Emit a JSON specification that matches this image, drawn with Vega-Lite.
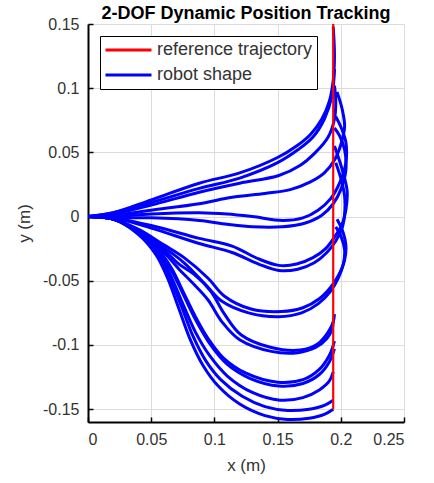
{
  "$schema": "https://vega.github.io/schema/vega-lite/v6.json",
  "autosize": "none",
  "width": 316,
  "height": 398,
  "padding": {"left": 88, "top": 24, "right": 30, "bottom": 61},
  "background": "white",
  "title": {"text": "2-DOF Dynamic Position Tracking", "fontSize": 18, "fontWeight": "bold", "font": "Liberation Sans", "color": "#000000", "offset": -7, "anchor": "middle", "frame": "group"},
  "config": {
    "view": {"stroke": null},
    "font": "Liberation Sans",
    "axis": {"labelFont": "Liberation Sans", "titleFont": "Liberation Sans", "labelFontSize": 16, "titleFontSize": 17, "titleFontWeight": "normal", "labelColor": "#333333", "titleColor": "#333333", "domainColor": "#000000", "domainWidth": 2, "tickColor": "#000000", "tickWidth": 1.5, "tickSize": -5, "gridColor": "#dcdcdc", "gridWidth": 1}
  },
  "data": {"values": [
    {"s":"robot shape","c":1,"i":0,"x":0,"y":0},{"s":"robot shape","c":1,"i":1,"x":0.02,"y":0.003},{"s":"robot shape","c":1,"i":2,"x":0.05,"y":0.013},{"s":"robot shape","c":1,"i":3,"x":0.088,"y":0.026},{"s":"robot shape","c":1,"i":4,"x":0.12,"y":0.034},{"s":"robot shape","c":1,"i":5,"x":0.15,"y":0.046},{"s":"robot shape","c":1,"i":6,"x":0.165,"y":0.055},{"s":"robot shape","c":1,"i":7,"x":0.176,"y":0.064},{"s":"robot shape","c":1,"i":8,"x":0.185,"y":0.076},{"s":"robot shape","c":1,"i":9,"x":0.191,"y":0.09},{"s":"robot shape","c":1,"i":10,"x":0.194,"y":0.106},{"s":"robot shape","c":1,"i":11,"x":0.195,"y":0.125},{"s":"robot shape","c":1,"i":12,"x":0.194,"y":0.148},
    {"s":"robot shape","c":2,"i":0,"x":0,"y":0},{"s":"robot shape","c":2,"i":1,"x":0.02,"y":0.003},{"s":"robot shape","c":2,"i":2,"x":0.05,"y":0.011},{"s":"robot shape","c":2,"i":3,"x":0.088,"y":0.022},{"s":"robot shape","c":2,"i":4,"x":0.12,"y":0.03},{"s":"robot shape","c":2,"i":5,"x":0.15,"y":0.042},{"s":"robot shape","c":2,"i":6,"x":0.166,"y":0.052},{"s":"robot shape","c":2,"i":7,"x":0.178,"y":0.062},{"s":"robot shape","c":2,"i":8,"x":0.187,"y":0.076},{"s":"robot shape","c":2,"i":9,"x":0.193,"y":0.094},{"s":"robot shape","c":2,"i":10,"x":0.195,"y":0.115},
    {"s":"robot shape","c":3,"i":0,"x":0,"y":0},{"s":"robot shape","c":3,"i":1,"x":0.02,"y":0.002},{"s":"robot shape","c":3,"i":2,"x":0.05,"y":0.009},{"s":"robot shape","c":3,"i":3,"x":0.088,"y":0.019},{"s":"robot shape","c":3,"i":4,"x":0.12,"y":0.026},{"s":"robot shape","c":3,"i":5,"x":0.151,"y":0.032},{"s":"robot shape","c":3,"i":6,"x":0.168,"y":0.04},{"s":"robot shape","c":3,"i":7,"x":0.18,"y":0.05},{"s":"robot shape","c":3,"i":8,"x":0.19,"y":0.062},{"s":"robot shape","c":3,"i":9,"x":0.195,"y":0.076},{"s":"robot shape","c":3,"i":10,"x":0.196,"y":0.09},{"s":"robot shape","c":3,"i":11,"x":0.195,"y":0.102},
    {"s":"robot shape","c":4,"i":0,"x":0,"y":0},{"s":"robot shape","c":4,"i":1,"x":0.02,"y":0.001},{"s":"robot shape","c":4,"i":2,"x":0.05,"y":0.005},{"s":"robot shape","c":4,"i":3,"x":0.088,"y":0.01},{"s":"robot shape","c":4,"i":4,"x":0.114,"y":0.015},{"s":"robot shape","c":4,"i":5,"x":0.14,"y":0.018},{"s":"robot shape","c":4,"i":6,"x":0.16,"y":0.021},{"s":"robot shape","c":4,"i":7,"x":0.176,"y":0.027},{"s":"robot shape","c":4,"i":8,"x":0.187,"y":0.034},{"s":"robot shape","c":4,"i":9,"x":0.195,"y":0.044},{"s":"robot shape","c":4,"i":10,"x":0.2,"y":0.056},{"s":"robot shape","c":4,"i":11,"x":0.203,"y":0.07},{"s":"robot shape","c":4,"i":12,"x":0.201,"y":0.084},{"s":"robot shape","c":4,"i":13,"x":0.197,"y":0.097},
    {"s":"robot shape","c":5,"i":0,"x":0,"y":0},{"s":"robot shape","c":5,"i":1,"x":0.02,"y":0.0},{"s":"robot shape","c":5,"i":2,"x":0.05,"y":0.002},{"s":"robot shape","c":5,"i":3,"x":0.088,"y":0.003},{"s":"robot shape","c":5,"i":4,"x":0.11,"y":0.002},{"s":"robot shape","c":5,"i":5,"x":0.13,"y":0.0},{"s":"robot shape","c":5,"i":6,"x":0.154,"y":-0.003},{"s":"robot shape","c":5,"i":7,"x":0.17,"y":-0.001},{"s":"robot shape","c":5,"i":8,"x":0.182,"y":0.005},{"s":"robot shape","c":5,"i":9,"x":0.192,"y":0.014},{"s":"robot shape","c":5,"i":10,"x":0.199,"y":0.026},{"s":"robot shape","c":5,"i":11,"x":0.204,"y":0.042},{"s":"robot shape","c":5,"i":12,"x":0.204,"y":0.058},{"s":"robot shape","c":5,"i":13,"x":0.2,"y":0.07},{"s":"robot shape","c":5,"i":14,"x":0.196,"y":0.078},
    {"s":"robot shape","c":6,"i":0,"x":0,"y":0},{"s":"robot shape","c":6,"i":1,"x":0.02,"y":-0.001},{"s":"robot shape","c":6,"i":2,"x":0.05,"y":-0.001},{"s":"robot shape","c":6,"i":3,"x":0.088,"y":-0.003},{"s":"robot shape","c":6,"i":4,"x":0.11,"y":-0.006},{"s":"robot shape","c":6,"i":5,"x":0.13,"y":-0.008},{"s":"robot shape","c":6,"i":6,"x":0.154,"y":-0.008},{"s":"robot shape","c":6,"i":7,"x":0.172,"y":-0.005},{"s":"robot shape","c":6,"i":8,"x":0.185,"y":0.001},{"s":"robot shape","c":6,"i":9,"x":0.194,"y":0.01},{"s":"robot shape","c":6,"i":10,"x":0.2,"y":0.021},{"s":"robot shape","c":6,"i":11,"x":0.204,"y":0.036},{"s":"robot shape","c":6,"i":12,"x":0.203,"y":0.052},{"s":"robot shape","c":6,"i":13,"x":0.199,"y":0.063},{"s":"robot shape","c":6,"i":14,"x":0.195,"y":0.069},
    {"s":"robot shape","c":7,"i":0,"x":0,"y":0},{"s":"robot shape","c":7,"i":1,"x":0.02,"y":-0.001},{"s":"robot shape","c":7,"i":2,"x":0.05,"y":-0.007},{"s":"robot shape","c":7,"i":3,"x":0.088,"y":-0.017},{"s":"robot shape","c":7,"i":4,"x":0.114,"y":-0.023},{"s":"robot shape","c":7,"i":5,"x":0.135,"y":-0.033},{"s":"robot shape","c":7,"i":6,"x":0.151,"y":-0.038},{"s":"robot shape","c":7,"i":7,"x":0.165,"y":-0.037},{"s":"robot shape","c":7,"i":8,"x":0.178,"y":-0.032},{"s":"robot shape","c":7,"i":9,"x":0.188,"y":-0.025},{"s":"robot shape","c":7,"i":10,"x":0.195,"y":-0.016},{"s":"robot shape","c":7,"i":11,"x":0.201,"y":-0.006},{"s":"robot shape","c":7,"i":12,"x":0.204,"y":0.005},{"s":"robot shape","c":7,"i":13,"x":0.205,"y":0.02},{"s":"robot shape","c":7,"i":14,"x":0.201,"y":0.037},{"s":"robot shape","c":7,"i":15,"x":0.195,"y":0.055},
    {"s":"robot shape","c":8,"i":0,"x":0,"y":0},{"s":"robot shape","c":8,"i":1,"x":0.02,"y":-0.001},{"s":"robot shape","c":8,"i":2,"x":0.05,"y":-0.009},{"s":"robot shape","c":8,"i":3,"x":0.088,"y":-0.021},{"s":"robot shape","c":8,"i":4,"x":0.114,"y":-0.028},{"s":"robot shape","c":8,"i":5,"x":0.135,"y":-0.037},{"s":"robot shape","c":8,"i":6,"x":0.151,"y":-0.042},{"s":"robot shape","c":8,"i":7,"x":0.166,"y":-0.041},{"s":"robot shape","c":8,"i":8,"x":0.179,"y":-0.036},{"s":"robot shape","c":8,"i":9,"x":0.189,"y":-0.028},{"s":"robot shape","c":8,"i":10,"x":0.196,"y":-0.019},{"s":"robot shape","c":8,"i":11,"x":0.201,"y":-0.009},{"s":"robot shape","c":8,"i":12,"x":0.203,"y":0.002},{"s":"robot shape","c":8,"i":13,"x":0.203,"y":0.016},{"s":"robot shape","c":8,"i":14,"x":0.2,"y":0.03},{"s":"robot shape","c":8,"i":15,"x":0.196,"y":0.042},
    {"s":"robot shape","c":9,"i":0,"x":0,"y":0},{"s":"robot shape","c":9,"i":1,"x":0.02,"y":-0.002},{"s":"robot shape","c":9,"i":2,"x":0.04,"y":-0.01},{"s":"robot shape","c":9,"i":3,"x":0.06,"y":-0.022},{"s":"robot shape","c":9,"i":4,"x":0.076,"y":-0.032},{"s":"robot shape","c":9,"i":5,"x":0.095,"y":-0.048},{"s":"robot shape","c":9,"i":6,"x":0.108,"y":-0.062},{"s":"robot shape","c":9,"i":7,"x":0.129,"y":-0.072},{"s":"robot shape","c":9,"i":8,"x":0.153,"y":-0.074},{"s":"robot shape","c":9,"i":9,"x":0.17,"y":-0.071},{"s":"robot shape","c":9,"i":10,"x":0.183,"y":-0.064},{"s":"robot shape","c":9,"i":11,"x":0.192,"y":-0.055},{"s":"robot shape","c":9,"i":12,"x":0.198,"y":-0.046},{"s":"robot shape","c":9,"i":13,"x":0.203,"y":-0.034},{"s":"robot shape","c":9,"i":14,"x":0.204,"y":-0.022},{"s":"robot shape","c":9,"i":15,"x":0.201,"y":-0.01},{"s":"robot shape","c":9,"i":16,"x":0.197,"y":-0.002},
    {"s":"robot shape","c":10,"i":0,"x":0,"y":0},{"s":"robot shape","c":10,"i":1,"x":0.02,"y":-0.002},{"s":"robot shape","c":10,"i":2,"x":0.04,"y":-0.011},{"s":"robot shape","c":10,"i":3,"x":0.06,"y":-0.024},{"s":"robot shape","c":10,"i":4,"x":0.076,"y":-0.036},{"s":"robot shape","c":10,"i":5,"x":0.093,"y":-0.053},{"s":"robot shape","c":10,"i":6,"x":0.106,"y":-0.066},{"s":"robot shape","c":10,"i":7,"x":0.127,"y":-0.075},{"s":"robot shape","c":10,"i":8,"x":0.151,"y":-0.078},{"s":"robot shape","c":10,"i":9,"x":0.169,"y":-0.075},{"s":"robot shape","c":10,"i":10,"x":0.182,"y":-0.068},{"s":"robot shape","c":10,"i":11,"x":0.192,"y":-0.058},{"s":"robot shape","c":10,"i":12,"x":0.198,"y":-0.048},{"s":"robot shape","c":10,"i":13,"x":0.202,"y":-0.037},{"s":"robot shape","c":10,"i":14,"x":0.203,"y":-0.026},{"s":"robot shape","c":10,"i":15,"x":0.2,"y":-0.015},{"s":"robot shape","c":10,"i":16,"x":0.196,"y":-0.008},
    {"s":"robot shape","c":11,"i":0,"x":0,"y":0},{"s":"robot shape","c":11,"i":1,"x":0.02,"y":-0.002},{"s":"robot shape","c":11,"i":2,"x":0.04,"y":-0.011},{"s":"robot shape","c":11,"i":3,"x":0.06,"y":-0.026},{"s":"robot shape","c":11,"i":4,"x":0.072,"y":-0.037},{"s":"robot shape","c":11,"i":5,"x":0.084,"y":-0.045},{"s":"robot shape","c":11,"i":6,"x":0.097,"y":-0.058},{"s":"robot shape","c":11,"i":7,"x":0.108,"y":-0.076},{"s":"robot shape","c":11,"i":8,"x":0.121,"y":-0.092},{"s":"robot shape","c":11,"i":9,"x":0.145,"y":-0.102},{"s":"robot shape","c":11,"i":10,"x":0.168,"y":-0.104},{"s":"robot shape","c":11,"i":11,"x":0.182,"y":-0.099},{"s":"robot shape","c":11,"i":12,"x":0.19,"y":-0.09},{"s":"robot shape","c":11,"i":13,"x":0.194,"y":-0.082},{"s":"robot shape","c":11,"i":14,"x":0.195,"y":-0.076},
    {"s":"robot shape","c":12,"i":0,"x":0,"y":0},{"s":"robot shape","c":12,"i":1,"x":0.02,"y":-0.002},{"s":"robot shape","c":12,"i":2,"x":0.04,"y":-0.012},{"s":"robot shape","c":12,"i":3,"x":0.06,"y":-0.028},{"s":"robot shape","c":12,"i":4,"x":0.072,"y":-0.041},{"s":"robot shape","c":12,"i":5,"x":0.083,"y":-0.052},{"s":"robot shape","c":12,"i":6,"x":0.095,"y":-0.065},{"s":"robot shape","c":12,"i":7,"x":0.106,"y":-0.082},{"s":"robot shape","c":12,"i":8,"x":0.12,"y":-0.096},{"s":"robot shape","c":12,"i":9,"x":0.145,"y":-0.105},{"s":"robot shape","c":12,"i":10,"x":0.166,"y":-0.106},{"s":"robot shape","c":12,"i":11,"x":0.18,"y":-0.102},{"s":"robot shape","c":12,"i":12,"x":0.189,"y":-0.095},{"s":"robot shape","c":12,"i":13,"x":0.193,"y":-0.088},{"s":"robot shape","c":12,"i":14,"x":0.194,"y":-0.082},
    {"s":"robot shape","c":13,"i":0,"x":0,"y":0},{"s":"robot shape","c":13,"i":1,"x":0.02,"y":-0.002},{"s":"robot shape","c":13,"i":2,"x":0.04,"y":-0.012},{"s":"robot shape","c":13,"i":3,"x":0.055,"y":-0.025},{"s":"robot shape","c":13,"i":4,"x":0.066,"y":-0.04},{"s":"robot shape","c":13,"i":5,"x":0.076,"y":-0.06},{"s":"robot shape","c":13,"i":6,"x":0.085,"y":-0.078},{"s":"robot shape","c":13,"i":7,"x":0.095,"y":-0.095},{"s":"robot shape","c":13,"i":8,"x":0.107,"y":-0.11},{"s":"robot shape","c":13,"i":9,"x":0.125,"y":-0.122},{"s":"robot shape","c":13,"i":10,"x":0.15,"y":-0.129},{"s":"robot shape","c":13,"i":11,"x":0.17,"y":-0.127},{"s":"robot shape","c":13,"i":12,"x":0.183,"y":-0.119},{"s":"robot shape","c":13,"i":13,"x":0.191,"y":-0.108},{"s":"robot shape","c":13,"i":14,"x":0.195,"y":-0.097},
    {"s":"robot shape","c":14,"i":0,"x":0,"y":0},{"s":"robot shape","c":14,"i":1,"x":0.02,"y":-0.002},{"s":"robot shape","c":14,"i":2,"x":0.04,"y":-0.012},{"s":"robot shape","c":14,"i":3,"x":0.055,"y":-0.026},{"s":"robot shape","c":14,"i":4,"x":0.066,"y":-0.042},{"s":"robot shape","c":14,"i":5,"x":0.076,"y":-0.062},{"s":"robot shape","c":14,"i":6,"x":0.086,"y":-0.082},{"s":"robot shape","c":14,"i":7,"x":0.097,"y":-0.1},{"s":"robot shape","c":14,"i":8,"x":0.11,"y":-0.115},{"s":"robot shape","c":14,"i":9,"x":0.128,"y":-0.126},{"s":"robot shape","c":14,"i":10,"x":0.151,"y":-0.132},{"s":"robot shape","c":14,"i":11,"x":0.17,"y":-0.13},{"s":"robot shape","c":14,"i":12,"x":0.183,"y":-0.123},{"s":"robot shape","c":14,"i":13,"x":0.191,"y":-0.113},{"s":"robot shape","c":14,"i":14,"x":0.195,"y":-0.103},
    {"s":"robot shape","c":15,"i":0,"x":0,"y":0},{"s":"robot shape","c":15,"i":1,"x":0.02,"y":-0.002},{"s":"robot shape","c":15,"i":2,"x":0.04,"y":-0.013},{"s":"robot shape","c":15,"i":3,"x":0.055,"y":-0.027},{"s":"robot shape","c":15,"i":4,"x":0.065,"y":-0.045},{"s":"robot shape","c":15,"i":5,"x":0.075,"y":-0.068},{"s":"robot shape","c":15,"i":6,"x":0.085,"y":-0.09},{"s":"robot shape","c":15,"i":7,"x":0.096,"y":-0.108},{"s":"robot shape","c":15,"i":8,"x":0.11,"y":-0.124},{"s":"robot shape","c":15,"i":9,"x":0.13,"y":-0.137},{"s":"robot shape","c":15,"i":10,"x":0.152,"y":-0.143},{"s":"robot shape","c":15,"i":11,"x":0.17,"y":-0.141},{"s":"robot shape","c":15,"i":12,"x":0.183,"y":-0.135},{"s":"robot shape","c":15,"i":13,"x":0.191,"y":-0.128},{"s":"robot shape","c":15,"i":14,"x":0.194,"y":-0.121},
    {"s":"robot shape","c":16,"i":0,"x":0,"y":0},{"s":"robot shape","c":16,"i":1,"x":0.02,"y":-0.002},{"s":"robot shape","c":16,"i":2,"x":0.04,"y":-0.013},{"s":"robot shape","c":16,"i":3,"x":0.055,"y":-0.028},{"s":"robot shape","c":16,"i":4,"x":0.064,"y":-0.046},{"s":"robot shape","c":16,"i":5,"x":0.074,"y":-0.07},{"s":"robot shape","c":16,"i":6,"x":0.083,"y":-0.093},{"s":"robot shape","c":16,"i":7,"x":0.093,"y":-0.112},{"s":"robot shape","c":16,"i":8,"x":0.105,"y":-0.127},{"s":"robot shape","c":16,"i":9,"x":0.122,"y":-0.14},{"s":"robot shape","c":16,"i":10,"x":0.14,"y":-0.148},{"s":"robot shape","c":16,"i":11,"x":0.158,"y":-0.151},{"s":"robot shape","c":16,"i":12,"x":0.175,"y":-0.15},{"s":"robot shape","c":16,"i":13,"x":0.187,"y":-0.147},{"s":"robot shape","c":16,"i":14,"x":0.194,"y":-0.143},
    {"s":"robot shape","c":17,"i":0,"x":0,"y":0},{"s":"robot shape","c":17,"i":1,"x":0.02,"y":-0.002},{"s":"robot shape","c":17,"i":2,"x":0.04,"y":-0.014},{"s":"robot shape","c":17,"i":3,"x":0.054,"y":-0.03},{"s":"robot shape","c":17,"i":4,"x":0.063,"y":-0.048},{"s":"robot shape","c":17,"i":5,"x":0.072,"y":-0.072},{"s":"robot shape","c":17,"i":6,"x":0.081,"y":-0.096},{"s":"robot shape","c":17,"i":7,"x":0.091,"y":-0.116},{"s":"robot shape","c":17,"i":8,"x":0.103,"y":-0.132},{"s":"robot shape","c":17,"i":9,"x":0.12,"y":-0.146},{"s":"robot shape","c":17,"i":10,"x":0.14,"y":-0.155},{"s":"robot shape","c":17,"i":11,"x":0.158,"y":-0.158},{"s":"robot shape","c":17,"i":12,"x":0.175,"y":-0.157},{"s":"robot shape","c":17,"i":13,"x":0.187,"y":-0.154},{"s":"robot shape","c":17,"i":14,"x":0.194,"y":-0.15},
    {"s":"reference trajectory","c":0,"i":0,"x":0.194,"y":0.15},{"s":"reference trajectory","c":0,"i":1,"x":0.194,"y":-0.15}
  ]},
  "encoding": {
    "x": {"field": "x", "type": "quantitative", "title": "x (m)", "scale": {"domain": [0, 0.25], "nice": false, "zero": false},
      "axis": {"values": [0, 0.05, 0.1, 0.15, 0.2, 0.25], "labelExpr": "'' + datum.value", "labelPadding": 14, "titlePadding": 10}},
    "y": {"field": "y", "type": "quantitative", "title": "y (m)", "scale": {"domain": [-0.16, 0.15], "nice": false, "zero": false},
      "axis": {"values": [-0.15, -0.1, -0.05, 0, 0.05, 0.1, 0.15], "labelExpr": "'' + datum.value", "labelPadding": 14, "titlePadding": 9}},
    "color": {"field": "s", "type": "nominal", "scale": {"domain": ["reference trajectory", "robot shape"], "range": ["#ff0000", "#0000ff"]},
      "legend": {"title": null, "orient": "top-left", "offset": 12, "padding": 4, "strokeColor": "#000000", "fillColor": "#ffffff", "symbolType": "stroke", "symbolSize": 2116, "symbolStrokeWidth": 3, "clipHeight": 20, "labelFontSize": 18, "labelColor": "#333333", "labelFont": "Liberation Sans", "rowPadding": 5, "labelOffset": 4}},
    "detail": {"field": "c", "type": "nominal"},
    "order": {"field": "i", "type": "quantitative"}
  },
  "layer": [
    {"transform": [{"filter": "datum.s == 'robot shape'"}], "mark": {"type": "line", "strokeWidth": 3, "interpolate": "catmull-rom", "clip": true}},
    {"transform": [{"filter": "datum.s == 'reference trajectory'"}], "mark": {"type": "line", "strokeWidth": 2.2}}
  ]
}
